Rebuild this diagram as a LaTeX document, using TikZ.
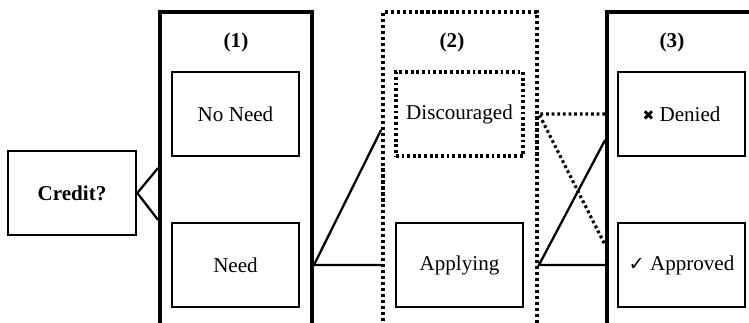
\documentclass[tikz,border=0pt]{standalone}
\usepackage{fontspec}
\setmainfont{Liberation Serif}
\newfontfamily\symfont{DejaVu Sans}
\begin{document}
\begin{tikzpicture}[x=0.02cm,y=-0.02cm,
  outerbox/.style={draw,line width=2.2pt,minimum width=152*0.02cm,minimum height=330*0.02cm,inner sep=0pt},
  outerdot/.style={draw,line width=2.2pt,dash pattern=on 1.8pt off 1.6pt,minimum width=154*0.02cm,minimum height=330*0.02cm,inner sep=0pt},
  inbox/.style={draw,line width=1.5pt,minimum width=127*0.02cm,minimum height=84*0.02cm,inner sep=0pt,font=\fontsize{12}{14}\selectfont},
  indot/.style={inbox,line width=1.9pt,dash pattern=on 1.6pt off 1.6pt},
  conn/.style={line width=1.3pt},
  connd/.style={line width=1.8pt,dash pattern=on 1.6pt off 1.6pt},
  lab/.style={font=\fontsize{12}{14}\selectfont\bfseries}]
\useasboundingbox (0,0) rectangle (749,323);
\clip (0,0) rectangle (749,323);
\node[outerbox] (c1) at (236,177) {};
\node[outerdot] (c2) at (460,177) {};
\node[outerbox] (c3) at (683,177) {};
\node[lab] (l1) at (236,42) {(1)};
\node[lab] (l2) at (452,42) {(2)};
\node[lab] (l3) at (672,42) {(3)};
\node[draw,line width=1.5pt,minimum width=128*0.02cm,minimum height=84*0.02cm,inner sep=0pt,font=\fontsize{12}{14}\selectfont\bfseries] (credit) at (72,193) {Credit?};
\node[inbox] (noneed) at (235.5,114) {No Need};
\node[inbox] (need) at (235.5,265) {Need};
\node[indot] (disc) at (459.5,114) {Discouraged};
\node[inbox] (app) at (459.5,265) {Applying};
\node[inbox] (den) at (681.5,114) {{\symfont\fontsize{8}{10}\selectfont\raisebox{0.5pt}{✖}} Denied};
\node[inbox] (appr) at (681.5,265) {{\symfont\fontsize{11}{12}\selectfont ✓} Approved};
\draw[conn] (c1.west |- 0,168) -- (credit.east) -- (c1.west |- 0,220);
\draw[conn] (c2.west |- 0,130) -- (c1.east |- need) -- (c2.west |- need);
\draw[conn] (c3.west |- 0,140) -- (c2.east |- app) -- (c3.west |- app);
\draw[connd] (c3.west |- disc) -- (c2.east |- disc) -- (c3.west |- 0,245);
\end{tikzpicture}
\end{document}
